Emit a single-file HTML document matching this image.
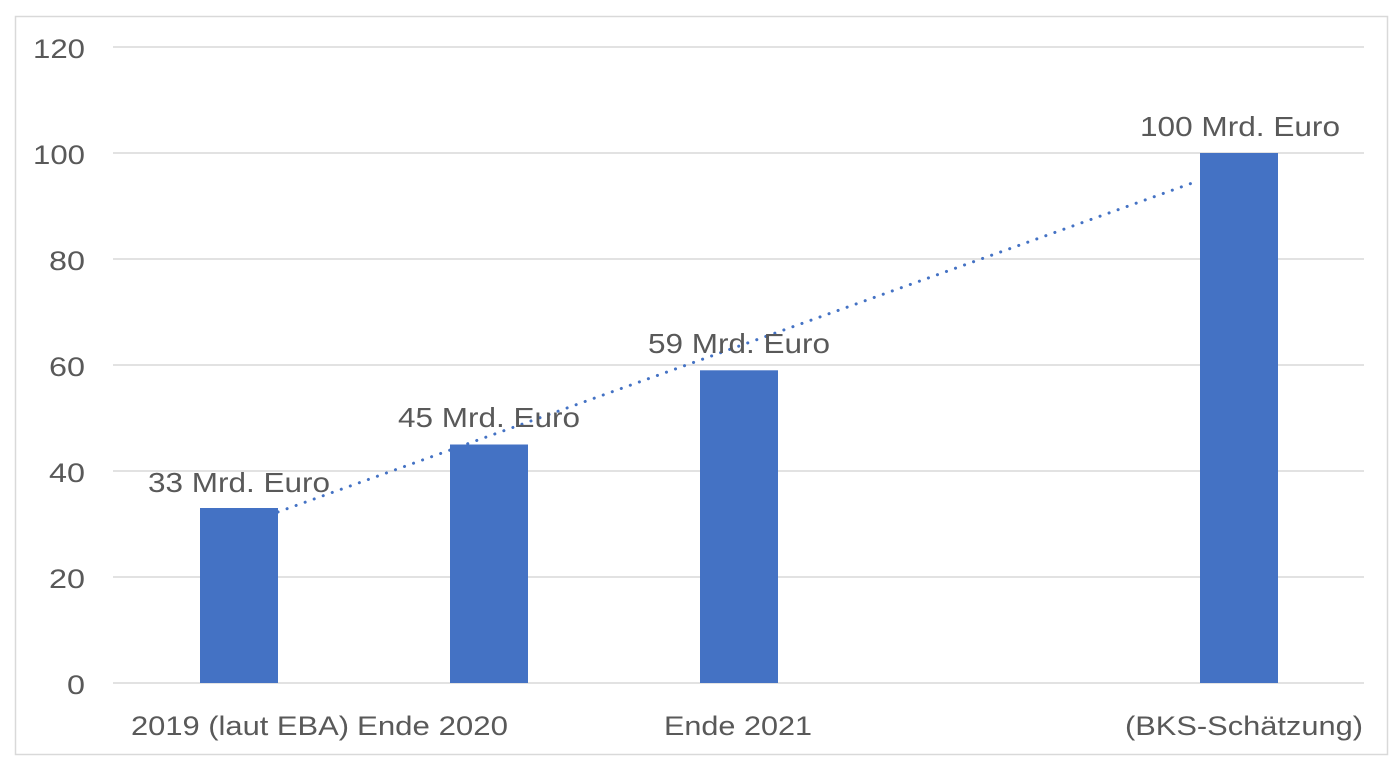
<!DOCTYPE html>
<html><head><meta charset="utf-8"><style>
html,body{margin:0;padding:0;background:#fff;}
text{font-family:"Liberation Sans",sans-serif;fill:#595959;}
</style></head><body>
<svg width="1400" height="765" xmlns="http://www.w3.org/2000/svg">
<rect x="15.5" y="16.5" width="1372" height="738" fill="#fff" stroke="#d9d9d9" stroke-width="1.5"/>
<g stroke="#d9d9d9" stroke-width="1.5">
<line x1="113" x2="1364" y1="47" y2="47"/>
<line x1="113" x2="1364" y1="153" y2="153"/>
<line x1="113" x2="1364" y1="259" y2="259"/>
<line x1="113" x2="1364" y1="365" y2="365"/>
<line x1="113" x2="1364" y1="471" y2="471"/>
<line x1="113" x2="1364" y1="577" y2="577"/>
<line x1="113" x2="1364" y1="683" y2="683"/>
</g>
<g font-size="27" text-anchor="end">
<text x="85" y="58" textLength="52" lengthAdjust="spacingAndGlyphs">120</text>
<text x="85" y="164" textLength="52" lengthAdjust="spacingAndGlyphs">100</text>
<text x="85" y="270" textLength="36" lengthAdjust="spacingAndGlyphs">80</text>
<text x="85" y="376" textLength="36" lengthAdjust="spacingAndGlyphs">60</text>
<text x="85" y="482" textLength="36" lengthAdjust="spacingAndGlyphs">40</text>
<text x="85" y="588" textLength="36" lengthAdjust="spacingAndGlyphs">20</text>
<text x="85" y="694" textLength="18" lengthAdjust="spacingAndGlyphs">0</text>
</g>
<g fill="#4472c4">
<rect x="200" y="508" width="78" height="175"/>
<rect x="450" y="444.5" width="78" height="238.5"/>
<rect x="700" y="370.3" width="78" height="312.7"/>
<rect x="1200" y="153" width="78" height="530"/>
</g>
<line x1="278" y1="512" x2="1195" y2="182" stroke="#4472c4" stroke-width="3" stroke-dasharray="0.1,9.5" stroke-linecap="round"/>
<g font-size="28">
<text x="148" y="492" textLength="182" lengthAdjust="spacingAndGlyphs">33 Mrd. Euro</text>
<text x="398" y="427" textLength="182" lengthAdjust="spacingAndGlyphs">45 Mrd. Euro</text>
<text x="648" y="353" textLength="182" lengthAdjust="spacingAndGlyphs">59 Mrd. Euro</text>
<text x="1140" y="136" textLength="200" lengthAdjust="spacingAndGlyphs">100 Mrd. Euro</text>
</g>
<g font-size="27">
<text x="131" y="735" textLength="218" lengthAdjust="spacingAndGlyphs">2019 (laut EBA)</text>
<text x="357" y="735" textLength="151" lengthAdjust="spacingAndGlyphs">Ende 2020</text>
<text x="664" y="735" textLength="148" lengthAdjust="spacingAndGlyphs">Ende 2021</text>
<text x="1125" y="735" textLength="238" lengthAdjust="spacingAndGlyphs">(BKS-Schätzung)</text>
</g>
</svg>
</body></html>
